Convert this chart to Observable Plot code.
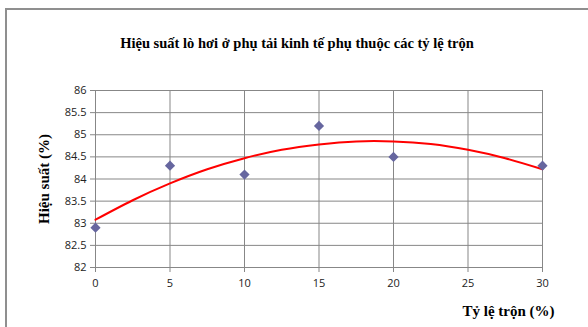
<!DOCTYPE html>
<html>
<head>
<meta charset="utf-8">
<script src="https://cdn.jsdelivr.net/npm/d3@7"></script>
<script src="https://cdn.jsdelivr.net/npm/@observablehq/plot@0.6"></script>
<style>
  html, body { margin: 0; padding: 0; background: #fff; }
  #chart { position: relative; width: 588px; height: 327px; overflow: hidden; }
  #frame { position: absolute; left: 5px; top: 8px; right: -10px; bottom: -10px;
           border-top: 2px solid #8f8f8f; border-left: 2px solid #8f8f8f; }
  #chart svg { position: absolute; left: 0; top: 0; }
</style>
</head>
<body>
<div id="chart"><div id="frame"></div></div>
<script>
// Blending ratio (%) and measured boiler efficiency (%)
const ratio = [0, 5, 10, 15, 20, 30];
const efficiency = [82.9, 84.3, 84.1, 85.2, 84.5, 84.3];

// Polynomial trend line, read at 2.5 % steps
const trendRatio = [0, 2.5, 5, 7.5, 10, 12.5, 15, 17.5, 20, 22.5, 25, 27.5, 30];
const trendEfficiency = [83.08, 83.52, 83.90, 84.22, 84.47, 84.66, 84.78, 84.85, 84.85, 84.79, 84.66, 84.47, 84.22];

// Axis ticks
const xTicks = [0, 5, 10, 15, 20, 25, 30];
const yTicks = [82, 82.5, 83, 83.5, 84, 84.5, 85, 85.5, 86];

const titleText = "Hiệu suất lò hơi ở phụ tải kinh tế phụ thuộc các tỷ lệ trộn";
const yLabel = "Hiệu suất (%)";
const xLabel = "Tỷ lệ trộn (%)";

const points = ratio.map((r, i) => ({ratio: r, efficiency: efficiency[i]}));
const trend = trendRatio.map((r, i) => ({ratio: r, efficiency: trendEfficiency[i]}));

const gridColor = "#878787";
const serif = "'Liberation Serif', 'Times New Roman', serif";

const chart = Plot.plot({
  width: 588,
  height: 327,
  marginLeft: 95,
  marginRight: 46,
  marginTop: 90,
  marginBottom: 60,
  style: {fontFamily: "'Open Sans', sans-serif", fontSize: "11px", background: "transparent", color: "#222"},
  x: {domain: [0, 30]},
  y: {domain: [82, 86]},
  marks: [
    Plot.gridX(xTicks, {stroke: gridColor, strokeOpacity: 1}),
    Plot.gridY(yTicks, {stroke: gridColor, strokeOpacity: 1}),
    Plot.ruleX([0], {stroke: gridColor}),
    Plot.ruleY([82], {stroke: gridColor}),
    Plot.axisX(xTicks, {tickSize: 5, tickPadding: 7, stroke: gridColor, fill: "#222", label: null, tickFormat: d => String(d)}),
    Plot.axisY(yTicks, {tickSize: 5, tickPadding: 4, stroke: gridColor, fill: "#222", label: null, tickFormat: d => String(d)}),
    Plot.line(trend, {x: "ratio", y: "efficiency", stroke: "#ff0000", strokeWidth: 2, curve: "natural"}),
    Plot.dot(points, {x: "ratio", y: "efficiency", symbol: "diamond2", r: 4.6, fill: "#66669f", stroke: null}),
    Plot.text([titleText], {frameAnchor: "top", dx: -22, dy: -47, lineAnchor: "middle", textAnchor: "middle",
      fontFamily: serif, fontWeight: "bold", fontSize: 14.5, fill: "#000"}),
    Plot.text([yLabel], {frameAnchor: "left", dx: -51, rotate: -90, lineAnchor: "middle", textAnchor: "middle",
      fontFamily: serif, fontWeight: "bold", fontSize: 15, fill: "#000"}),
    Plot.text([xLabel], {frameAnchor: "bottom-right", dx: -34, dy: 44, lineAnchor: "middle", textAnchor: "middle",
      fontFamily: serif, fontWeight: "bold", fontSize: 15, fill: "#000"})
  ]
});

document.getElementById("chart").appendChild(chart);
</script>
</body>
</html>
